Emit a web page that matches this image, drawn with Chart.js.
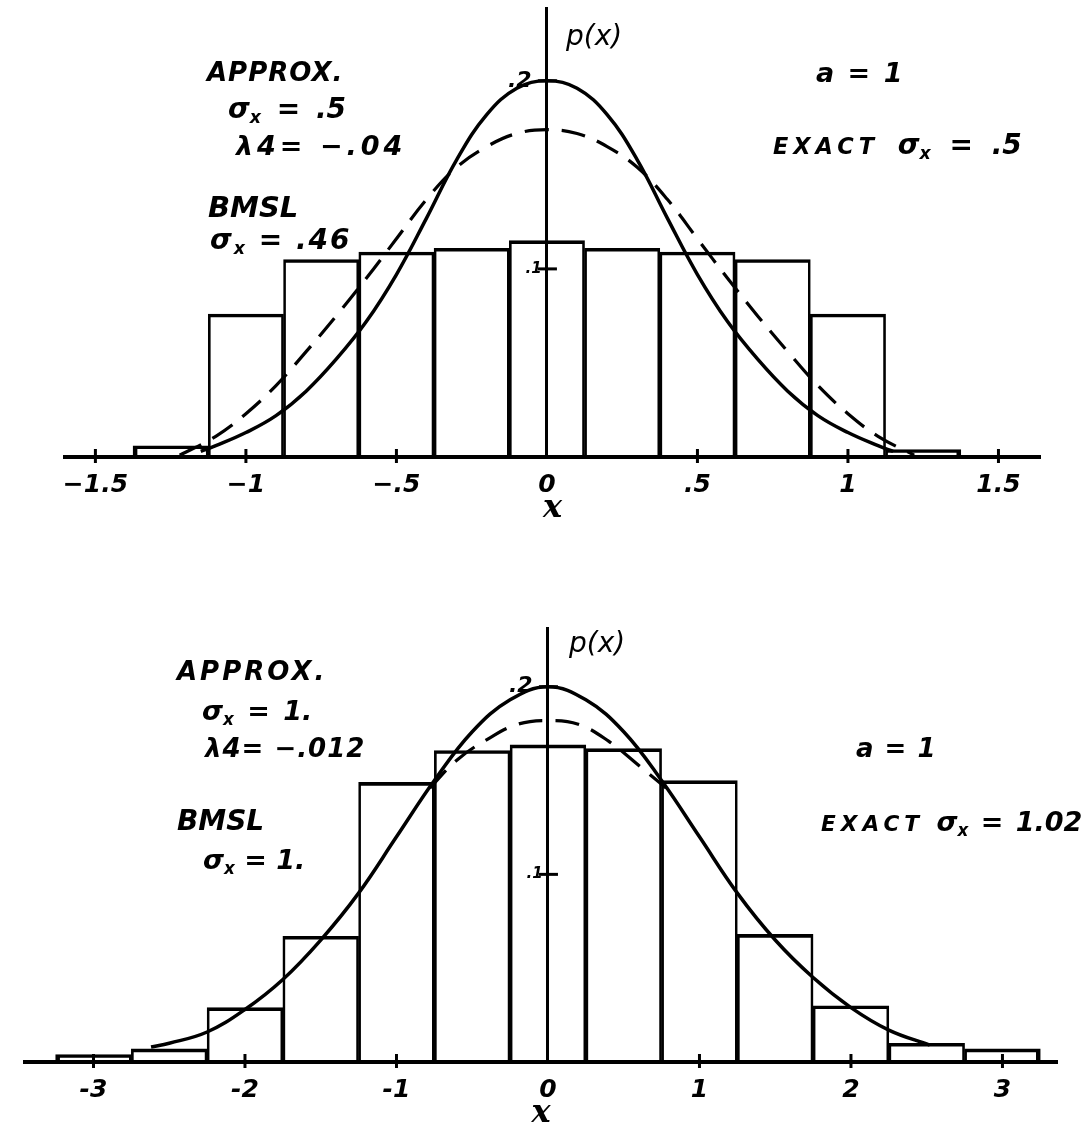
<!DOCTYPE html>
<html>
<head>
<meta charset="utf-8">
<script src="https://cdn.jsdelivr.net/npm/chart.js@4.4.1/dist/chart.umd.min.js"></script>
<style>
  html, body { margin: 0; padding: 0; background: #fff; }
  #page { position: relative; width: 1087px; height: 1128px; overflow: hidden; background: #fff; }
  #page canvas { position: absolute; left: 0; }
  .note { position: absolute; font-family: "DejaVu Sans", sans-serif; font-weight: bold; font-style: italic;
          line-height: 1; white-space: nowrap; color: #000; }
  .note sub { font-size: 0.62em; vertical-align: -0.3em; }
  .note .small { font-size: 0.8em; letter-spacing: 5px; }
  .note.thin { font-weight: normal; }
</style>
</head>
<body>
<div id="page">
  <canvas id="upper" width="1087" height="570" style="top:-20px"></canvas>
  <canvas id="lower" width="1087" height="568" style="top:560px"></canvas>

  <!-- upper panel notes -->
  <div class="note" style="left:207px;top:59px;font-size:26px;letter-spacing:1px">APPROX.</div>
  <div class="note" style="left:228px;top:95px;font-size:28px;word-spacing:6px">σ<sub>x</sub> = .5</div>
  <div class="note" style="left:236px;top:132px;font-size:27px;letter-spacing:4px">λ4= −.04</div>
  <div class="note" style="left:208px;top:193px;font-size:29px">BMSL</div>
  <div class="note" style="left:210px;top:226px;font-size:28px;letter-spacing:2px">σ<sub>x</sub> = .46</div>
  <div class="note thin" style="left:566px;top:22px;font-size:28px">p(x)</div>
  <div class="note" style="left:816px;top:59px;font-size:27px;word-spacing:4px">a = 1</div>
  <div class="note" style="left:773px;top:131px;font-size:28px;word-spacing:9px"><span class="small">EXACT</span> σ<sub>x</sub> = .5</div>

  <!-- lower panel notes -->
  <div class="note" style="left:177px;top:658px;font-size:26px;letter-spacing:3px">APPROX.</div>
  <div class="note" style="left:202px;top:697px;font-size:27px;word-spacing:4px">σ<sub>x</sub> = 1.</div>
  <div class="note" style="left:205px;top:735px;font-size:26px;letter-spacing:1px">λ4= −.012</div>
  <div class="note" style="left:177px;top:807px;font-size:28px">BMSL</div>
  <div class="note" style="left:203px;top:846px;font-size:27px">σ<sub>x</sub> = 1.</div>
  <div class="note thin" style="left:569px;top:629px;font-size:28px">p(x)</div>
  <div class="note" style="left:856px;top:735px;font-size:26px;word-spacing:2px">a = 1</div>
  <div class="note" style="left:821px;top:808px;font-size:27px;word-spacing:3px"><span class="small">EXACT</span> σ<sub>x</sub> = 1.02</div>
</div>

<script>
// ---- upper panel: a = 1, sigma_x = .5 ----
const upperBinCenters = [-1.25, -1, -0.75, -0.5, -0.25, 0, 0.25, 0.5, 0.75, 1, 1.25];
const upperBinHeights = [0.006, 0.076, 0.105, 0.109, 0.111, 0.115, 0.111, 0.109, 0.105, 0.076, 0.004];

const upperSolidX = [-1.15, -1.1, -1.0, -0.9, -0.8, -0.7, -0.6, -0.5, -0.4, -0.3, -0.2, -0.1, 0,
                     0.1, 0.2, 0.3, 0.4, 0.5, 0.6, 0.7, 0.8, 0.9, 1.0, 1.1, 1.15];
const upperSolidY = [0.003, 0.006, 0.013, 0.022, 0.035, 0.052, 0.072, 0.097, 0.127, 0.158, 0.182, 0.196, 0.200,
                     0.196, 0.182, 0.158, 0.127, 0.097, 0.072, 0.052, 0.035, 0.022, 0.013, 0.006, 0.003];

const upperDashedX = [-1.22, -1.1, -1.0, -0.9, -0.8, -0.7, -0.6, -0.5, -0.4, -0.3, -0.2, -0.1, 0,
                      0.1, 0.2, 0.3, 0.4, 0.5, 0.6, 0.7, 0.8, 0.9, 1.0, 1.1, 1.22];
const upperDashedY = [0.001, 0.011, 0.023, 0.038, 0.056, 0.075, 0.095, 0.116, 0.137, 0.154, 0.165, 0.172, 0.174,
                      0.172, 0.165, 0.154, 0.137, 0.116, 0.095, 0.075, 0.056, 0.038, 0.023, 0.011, 0.001];

const upperTickValues = [-1.5, -1, -0.5, 0, 0.5, 1, 1.5];
const upperTickLabels = ['−1.5', '−1', '−.5', '0', '.5', '1', '1.5'];

// ---- lower panel: a = 1, sigma_x = 1 ----
const lowerBinCenters = [-3, -2.5, -2, -1.5, -1, -0.5, 0, 0.5, 1, 1.5, 2, 2.5, 3];
const lowerBinHeights = [0.004, 0.007, 0.029, 0.067, 0.149, 0.166, 0.169, 0.167, 0.150, 0.068, 0.030, 0.010, 0.007];

const lowerSolidX = [-2.62, -2.5, -2.25, -2.0, -1.75, -1.5, -1.25, -1.0, -0.75, -0.5, -0.25, 0,
                     0.25, 0.5, 0.75, 1.0, 1.25, 1.5, 1.75, 2.0, 2.25, 2.52];
const lowerSolidY = [0.008, 0.010, 0.016, 0.028, 0.044, 0.065, 0.090, 0.120, 0.150, 0.176, 0.193, 0.200,
                     0.193, 0.176, 0.150, 0.120, 0.090, 0.065, 0.045, 0.029, 0.017, 0.009];

const lowerDashedX = [-0.78, -0.6, -0.4, -0.2, 0, 0.2, 0.4, 0.6, 0.78];
const lowerDashedY = [0.146, 0.161, 0.172, 0.180, 0.182, 0.180, 0.171, 0.158, 0.146];

const lowerTickValues = [-3, -2, -1, 0, 1, 2, 3];
const lowerTickLabels = ['-3', '-2', '-1', '0', '1', '2', '3'];

// shared density ticks
const yTickValues = [0.1, 0.2];
const yTickLabels = ['.1', '.2'];

const toPoints = (xs, ys) => xs.map((x, i) => ({ x: x, y: ys[i] }));

// small hand-style tick marks crossing both axes
const crossTicks = {
  id: 'crossTicks',
  afterDatasetsDraw(chart) {
    const { ctx, scales: { x, y } } = chart;
    const x0 = x.getPixelForValue(0);
    const y0 = y.getPixelForValue(0);
    ctx.save();
    ctx.strokeStyle = '#000';
    ctx.lineWidth = 3;
    x.ticks.forEach(t => {
      if (t.value === 0) return;
      const px = x.getPixelForValue(t.value);
      ctx.beginPath(); ctx.moveTo(px, y0 - 8); ctx.lineTo(px, y0 + 6); ctx.stroke();
    });
    y.ticks.forEach(t => {
      const py = y.getPixelForValue(t.value);
      ctx.beginPath(); ctx.moveTo(x0 - 9, py); ctx.lineTo(x0 + 10, py); ctx.stroke();
    });
    ctx.restore();
  }
};

function buildPanel(canvasId, p) {
  const last = p.binCenters.length - 1;
  return new Chart(document.getElementById(canvasId), {
    type: 'bar',
    data: {
      datasets: [
        {
          type: 'line',
          data: toPoints(p.solidX, p.solidY),
          borderColor: '#000', borderWidth: 3.5, pointRadius: 0,
          tension: 0.4, fill: false, order: 1
        },
        {
          type: 'line',
          data: toPoints(p.dashedX, p.dashedY),
          borderColor: '#000', borderWidth: 3.2, borderDash: [24, 13], pointRadius: 0,
          tension: 0.4, fill: false, order: 2
        },
        {
          type: 'bar',
          data: toPoints(p.binCenters, p.binHeights),
          backgroundColor: 'rgba(0,0,0,0)', borderColor: '#000', borderSkipped: false,
          borderWidth: ctx => ({ top: 3, bottom: 0,
                                 left: ctx.dataIndex === 0 ? 4 : 2,
                                 right: ctx.dataIndex === last ? 4 : 2 }),
          barPercentage: 1, categoryPercentage: 1, grouped: false, order: 3
        }
      ]
    },
    options: {
      responsive: false,
      animation: false,
      events: [],
      layout: { padding: p.padding },
      plugins: { legend: { display: false }, tooltip: { enabled: false } },
      scales: {
        x: {
          type: 'linear', min: p.xMin, max: p.xMax, position: { y: 0 }, offset: false,
          grid: { display: false, offset: false },
          border: { display: true, color: '#000', width: 4 },
          afterBuildTicks: s => { s.ticks = p.tickValues.map(v => ({ value: v })); },
          ticks: {
            color: '#000', padding: 5, autoSkip: false, maxRotation: 0,
            font: { family: 'DejaVu Sans', size: 25, weight: 'bold', style: 'italic' },
            callback: v => p.tickLabels[p.tickValues.indexOf(v)]
          },
          title: {
            display: true, text: 'x', color: '#000',
            font: { family: 'DejaVu Serif', size: 32, weight: 'bold', style: 'italic' },
            padding: { top: -16, bottom: 0 }
          }
        },
        y: {
          type: 'linear', min: 0, max: p.yMax, position: { x: 0 },
          grid: { display: false },
          border: { display: true, color: '#000', width: 3 },
          afterBuildTicks: s => { s.ticks = yTickValues.map(v => ({ value: v })); },
          ticks: {
            color: '#000', autoSkip: false,
            font: ctx => (ctx.tick && ctx.tick.value > 0.15)
              ? { family: 'DejaVu Sans', size: 22, weight: 'bold', style: 'italic' }
              : { family: 'DejaVu Sans', size: 15, weight: 'bold', style: 'italic' },
            callback: v => yTickLabels[yTickValues.indexOf(v)] + (v > 0.15 ? '  ' : ' ')
          }
        }
      }
    },
    plugins: [crossTicks]
  });
}

buildPanel('upper', {
  binCenters: upperBinCenters, binHeights: upperBinHeights,
  solidX: upperSolidX, solidY: upperSolidY,
  dashedX: upperDashedX, dashedY: upperDashedY,
  tickValues: upperTickValues, tickLabels: upperTickLabels,
  xMin: -1.601, xMax: 1.638, yMax: 0.2387,
  padding: { left: 65, right: 47, top: 28, bottom: 93 }
});

buildPanel('lower', {
  binCenters: lowerBinCenters, binHeights: lowerBinHeights,
  solidX: lowerSolidX, solidY: lowerSolidY,
  dashedX: lowerDashedX, dashedY: lowerDashedY,
  tickValues: lowerTickValues, tickLabels: lowerTickLabels,
  xMin: -3.452, xMax: 3.36, yMax: 0.2313,
  padding: { left: 25, right: 30, top: 68, bottom: 66 }
});
</script>
</body>
</html>
